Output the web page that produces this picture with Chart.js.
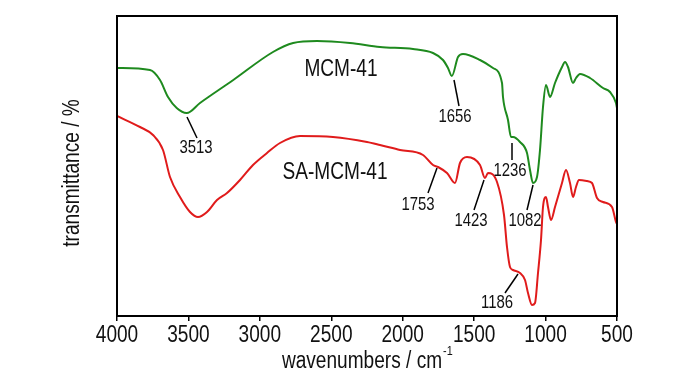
<!DOCTYPE html>
<html>
<head>
<meta charset="utf-8">
<script src="https://cdn.jsdelivr.net/npm/chart.js@4/dist/chart.umd.min.js"></script>
<style>
  html, body { margin: 0; padding: 0; background: #fff; }
  #wrap { width: 700px; height: 375px; }
</style>
</head>
<body>
<div id="wrap"><canvas id="ftir"></canvas></div>
<script>
// Espectros FTIR: MCM-41 e SA-MCM-41 (transmitância em unidades arbitrárias)
const FONT = "'Liberation Sans', Arial, sans-serif";
const NARROW = 0.83; // fonte estreita tipo Arial Narrow

const xTicks = [4000, 3500, 3000, 2500, 2000, 1500, 1000, 500];

const mcmWavenumbers = [4000, 3769, 3699, 3643, 3582, 3512, 3419, 3186, 2908, 2767, 2600, 2369, 2159, 1928, 1788, 1718, 1683, 1656, 1613, 1578, 1459, 1368, 1305, 1298, 1263, 1242, 1228, 1179, 1130, 1109, 1088, 1060, 1039, 1018, 997, 969, 934, 885, 864, 843, 808, 787, 759, 689, 598, 549, 507, 500];
const mcmValues = [248, 246, 236, 219, 208, 203, 213, 236, 264, 273, 275, 273, 269, 267, 263, 256, 248, 240, 259, 262, 256, 248, 233, 219, 196, 179, 179, 174, 163, 146, 133, 139, 166, 209, 231, 219, 233, 249, 254, 249, 233, 238, 242, 238, 228, 224, 213, 208];

const saWavenumbers = [4000, 3839, 3748, 3678, 3629, 3559, 3489, 3433, 3370, 3300, 3230, 3139, 3048, 2950, 2859, 2719, 2488, 2250, 2159, 2019, 1858, 1788, 1753, 1690, 1634, 1599, 1550, 1459, 1424, 1403, 1340, 1291, 1270, 1249, 1228, 1179, 1144, 1123, 1095, 1074, 1053, 1032, 1018, 997, 983, 962, 934, 885, 857, 829, 808, 787, 766, 710, 675, 640, 598, 535, 507, 500];
const saValues = [200, 189, 181, 166, 139, 119, 104, 99, 104, 116, 123, 136, 151, 163, 173, 180, 179, 174, 171, 166, 161, 151, 149, 143, 133, 153, 159, 151, 138, 143, 134, 101, 69, 49, 46, 43, 36, 23, 11, 13, 43, 76, 109, 119, 109, 96, 109, 133, 146, 133, 119, 129, 136, 135, 133, 118, 114, 109, 94, 92];

// nomes das amostras
const seriesLabels = [
  { text: 'MCM-41', x: 2432, y: 246 },
  { text: 'SA-MCM-41', x: 2474, y: 143 }
];

// picos marcados: texto, posição do texto e linha guia (x1,y1 -> x2,y2)
const peakLabels = [
  { text: '3513', x: 3447, y: 168, line: [3510, 199, 3440, 178] },
  { text: '1656', x: 1634, y: 199, line: [1641, 236, 1606, 210] },
  { text: '1236', x: 1249, y: 145, line: [1235, 173, 1235, 156] },
  { text: '1082', x: 1144, y: 95, line: [1088, 131, 1130, 106] },
  { text: '1753', x: 1893, y: 111, line: [1760, 148, 1823, 123] },
  { text: '1423', x: 1522, y: 95, line: [1431, 136, 1501, 106] },
  { text: '1186', x: 1340, y: 13, line: [1193, 42, 1284, 23] }
];

const toPoints = (xs, ys) => xs.map((x, i) => ({ x: x, y: ys[i] }));

function narrowText(ctx, text, x, y, size, align, rot) {
  ctx.save();
  ctx.translate(x, y);
  if (rot) ctx.rotate(rot);
  ctx.scale(NARROW, 1);
  ctx.font = size + 'px ' + FONT;
  ctx.textAlign = align || 'center';
  ctx.textBaseline = 'middle';
  ctx.fillText(text, 0, 0);
  ctx.restore();
}

const annotations = {
  id: 'annotations',
  afterDatasetsDraw(chart) {
    const { ctx, chartArea: a, scales: { x, y } } = chart;
    ctx.save();
    // moldura
    ctx.strokeStyle = '#000';
    ctx.lineWidth = 2;
    ctx.strokeRect(a.left, a.top, a.right - a.left, a.bottom - a.top);

    ctx.fillStyle = '#111';
    seriesLabels.forEach(l => narrowText(ctx, l.text, x.getPixelForValue(l.x), y.getPixelForValue(l.y), 23));

    ctx.lineWidth = 1.5;
    peakLabels.forEach(p => {
      ctx.beginPath();
      ctx.moveTo(x.getPixelForValue(p.line[0]), y.getPixelForValue(p.line[1]));
      ctx.lineTo(x.getPixelForValue(p.line[2]), y.getPixelForValue(p.line[3]));
      ctx.stroke();
      narrowText(ctx, p.text, x.getPixelForValue(p.x), y.getPixelForValue(p.y), 18);
    });

    // rótulos do eixo x
    xTicks.forEach(v => narrowText(ctx, String(v), x.getPixelForValue(v), a.bottom + 20, 23));

    // título do eixo y
    narrowText(ctx, 'transmittance / %', 73, (a.top + a.bottom) / 2 + 7, 23, 'center', -Math.PI / 2);

    // título do eixo x com expoente
    const main = 'wavenumbers / cm';
    ctx.font = '23px ' + FONT;
    const wMain = ctx.measureText(main).width * NARROW;
    const startX = (a.left + a.right) / 2 - 1 - (wMain + 8) / 2;
    narrowText(ctx, main, startX, 362, 23, 'left');
    narrowText(ctx, '-1', startX + wMain + 1, 351, 13, 'left');
    ctx.restore();
  }
};

new Chart(document.getElementById('ftir'), {
  type: 'line',
  data: {
    datasets: [{
      label: 'MCM-41',
      data: toPoints(mcmWavenumbers, mcmValues),
      borderColor: '#1e8a1e',
      borderWidth: 2,
      pointRadius: 0,
      cubicInterpolationMode: 'monotone',
      fill: false
    }, {
      label: 'SA-MCM-41',
      data: toPoints(saWavenumbers, saValues),
      borderColor: '#e01b1b',
      borderWidth: 2,
      pointRadius: 0,
      cubicInterpolationMode: 'monotone',
      fill: false
    }]
  },
  options: {
    responsive: true,
    maintainAspectRatio: false,
    animation: false,
    layout: { padding: { top: 16, right: 83, bottom: 0, left: 0 } },
    plugins: { legend: { display: false }, tooltip: { enabled: false } },
    scales: {
      x: {
        type: 'linear',
        reverse: true,
        min: 500,
        max: 4000,
        afterBuildTicks: s => { s.ticks = xTicks.map(v => ({ value: v })); },
        afterFit: s => { s.height = 59; },
        border: { display: false },
        grid: { drawOnChartArea: false, drawTicks: true, tickLength: 5, color: '#000', lineWidth: 1.5 },
        ticks: { color: 'rgba(0,0,0,0)', font: { family: FONT, size: 12 }, maxRotation: 0 }
      },
      y: {
        min: 0,
        max: 300,
        afterFit: s => { s.width = 117; },
        border: { display: false },
        grid: { display: false },
        ticks: { display: false }
      }
    }
  },
  plugins: [annotations]
});
</script>
</body>
</html>
